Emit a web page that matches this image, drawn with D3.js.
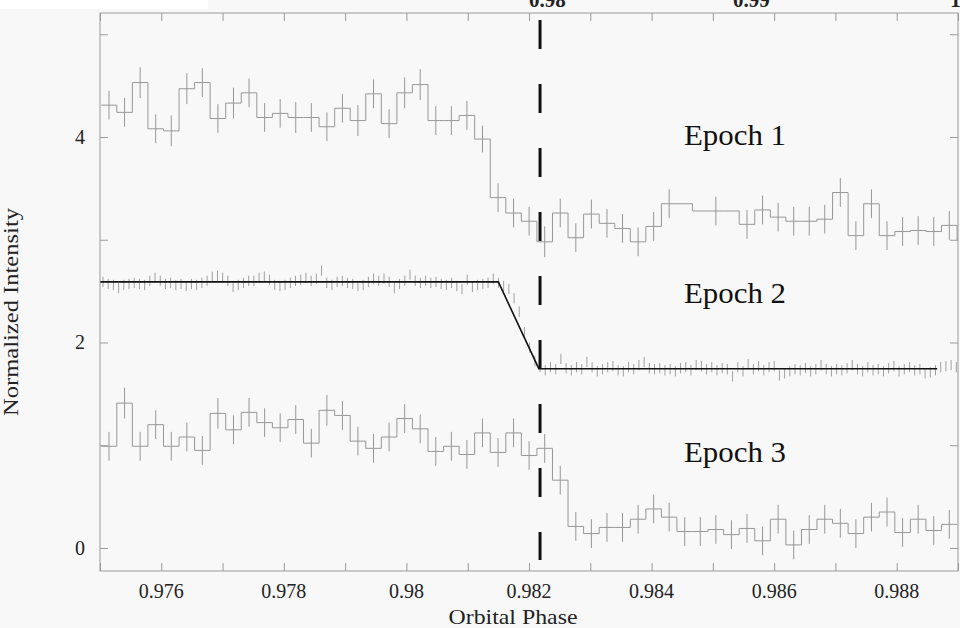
<!DOCTYPE html>
<html><head><meta charset="utf-8">
<script src="https://cdn.jsdelivr.net/npm/d3@7"></script>
<style>
html,body{margin:0;padding:0;background:#f8f8f8;}
svg{display:block;}
text{font-family:"Liberation Serif","DejaVu Serif",serif;}
</style></head>
<body>
<svg id="chart" width="960" height="628"></svg>
<script>
// ---------- data ----------
const binPhase = [0.975147,0.975401,0.975655,0.975909,0.976163,0.976417,0.976670,0.976924,0.977178,0.977432,
  0.977686,0.977940,0.978194,0.978448,0.978702,0.978956,0.979209,0.979463,0.979717,0.979971,
  0.980225,0.980479,0.980733,0.980987,0.981241,0.981495,0.981748,0.982002,0.982256,0.982510,
  0.982764,0.983018,0.983272,0.983526,0.983780,0.984034,0.984287,0.984541,0.984795,0.985049,
  0.985303,0.985557,0.985811,0.986065,0.986319,0.986573,0.986826,0.987080,0.987334,0.987588,
  0.987842,0.988096,0.988350,0.988604,0.988858,0.989112];
const binHalfWidth = 0.000127;

const epoch1Values = [4.31,4.24,4.53,4.08,4.06,4.47,4.53,4.18,4.33,4.43,
  4.19,4.23,4.19,4.19,4.10,4.28,4.16,4.42,4.13,4.43,
  4.51,4.16,4.16,4.21,3.98,3.41,3.26,3.18,2.98,3.26,
  3.02,3.25,3.16,3.11,2.98,3.13,3.35,3.35,3.28,3.28,
  3.28,3.15,3.29,3.22,3.18,3.18,3.20,3.46,3.04,3.35,
  3.04,3.08,3.09,3.08,3.14,3.00];
const epoch1Errors = [0.14,0.14,0.15,0.14,0.15,0.15,0.14,0.14,0.15,0.14,
  0.14,0.14,0.15,0.14,0.14,0.14,0.15,0.14,0.14,0.15,
  0.15,0.14,0.14,0.14,0.13,0.14,0.14,0.14,0.15,0.14,
  0.14,0.14,0.14,0.14,0.14,0.14,0.14,null,null,0.14,
  null,0.14,0.14,0.14,0.14,0.14,0.14,0.14,0.14,0.14,
  0.14,0.14,0.14,0.14,0.14,null];

const epoch3Values = [0.99,1.41,0.99,1.20,0.99,1.08,0.95,1.31,1.15,1.32,
  1.22,1.17,1.25,1.02,1.34,1.29,1.04,0.97,1.08,1.26,
  1.16,0.94,0.99,0.91,1.12,0.93,1.12,0.90,0.97,0.66,
  0.21,0.14,0.20,0.20,0.28,0.38,0.30,0.16,0.16,0.18,
  0.13,0.19,0.07,0.28,0.03,0.18,0.28,0.24,0.14,0.30,
  0.35,0.15,0.28,0.17,0.23];
const epoch3Errors = [0.14,0.15,0.14,0.14,0.14,0.14,0.14,0.15,0.14,0.14,
  0.14,0.14,0.14,0.14,0.15,0.14,0.14,0.14,0.14,0.14,
  0.14,0.14,0.14,0.14,0.14,0.14,0.14,0.14,0.14,0.14,
  0.14,0.14,0.14,0.14,0.14,0.14,0.14,0.14,0.14,0.14,
  0.14,0.14,0.14,0.14,0.14,0.14,0.14,0.14,0.14,0.14,
  0.14,0.14,0.14,0.14,0.14];

// Epoch 2: fine sampling grid
const epoch2Start = 0.975049;
const epoch2Bin = 0.0000849;
const epoch2Values = [2.59,2.57,2.56,2.53,2.56,2.57,2.58,2.57,2.56,2.60,
  2.63,2.60,2.57,2.58,2.56,2.57,2.55,2.57,2.56,2.58,
  2.60,2.64,2.65,2.63,2.60,2.54,2.56,2.58,2.60,2.60,
  2.63,2.64,2.61,2.56,2.55,2.56,2.58,2.60,2.61,2.63,
  2.60,2.62,2.70,2.58,2.56,2.59,2.60,2.58,2.57,2.55,
  2.56,2.59,2.62,2.60,2.62,2.59,2.53,2.57,2.60,2.66,
  2.60,2.58,2.60,2.58,2.59,2.57,2.56,2.58,2.55,2.52,
  2.61,2.54,2.56,2.57,2.58,2.62,2.58,2.55,2.52,2.43,
  2.30,2.10,1.95,1.82,1.76,1.73,1.76,1.74,1.84,1.75,
  1.73,1.76,1.74,1.81,1.76,1.72,1.74,1.76,1.77,1.73,
  1.72,1.76,1.74,1.78,1.81,1.75,1.74,1.75,1.73,1.74,
  1.72,1.75,1.76,1.73,1.78,1.77,1.74,1.76,1.73,1.75,
  1.74,1.67,1.76,1.72,1.79,1.74,1.77,1.73,1.76,1.77,
  1.68,1.70,1.72,1.74,1.73,1.75,1.72,1.74,1.78,1.74,
  1.72,1.74,1.73,1.75,1.78,1.74,1.72,1.76,1.73,1.74,
  1.72,1.75,1.77,1.72,1.74,1.76,1.73,1.74,1.70,1.71,
  1.73,1.76,1.77,1.78,1.76];
const epoch2Error = 0.05;

const modelPhase = [0.975, 0.9815, 0.98216, 0.98866];
const modelValue = [2.59, 2.59, 1.745, 1.745];

const eclipsePhase = 0.98218;

const xTicksMajor = [0.976, 0.978, 0.98, 0.982, 0.984, 0.986, 0.988];
const xTickLabels = ["0.976","0.978","0.98","0.982","0.984","0.986","0.988"];
const xTicksMinor = [0.975,0.977,0.979,0.981,0.983,0.985,0.987,0.989];
const yTicksMajor = [0, 2, 4];
const yTickLabels = ["0","2","4"];
const yTicksMinor = [1, 3, 5];

const epochLabels = ["Epoch 1", "Epoch 2", "Epoch 3"];
const epochLabelValues = [3.92, 2.38, 0.84];

const topCutLabels = ["0.98", "0.99", "1"];
const topCutPhases = [0.98230, 0.98563, 0.98896];

// ---------- layout ----------
const L = 100, R = 958, T = 13, B = 571;
const x = d3.scaleLinear().domain([0.975, 0.989]).range([L, R]);
const y = d3.scaleLinear().domain([-0.224, 5.207]).range([B, T]);

const svg = d3.select("#chart");
svg.append("rect").attr("x",0).attr("y",0).attr("width",960).attr("height",628).attr("fill","#f8f8f8");
svg.append("rect").attr("x",0).attr("y",0).attr("width",208).attr("height",9).attr("fill","#ffffff");

svg.append("defs").append("clipPath").attr("id","plotclip")
  .append("rect").attr("x",L).attr("y",T).attr("width",R-L).attr("height",B-T);

const plot = svg.append("g").attr("clip-path","url(#plotclip)");
const gray = "#979797";

function drawHist(values, errors) {
  const pts = [];
  values.forEach((v,i) => {
    pts.push([binPhase[i]-binHalfWidth, v]);
    pts.push([binPhase[i]+binHalfWidth, v]);
  });
  plot.append("path")
    .attr("d", d3.line().x(d=>x(d[0])).y(d=>y(d[1]))(pts))
    .attr("fill","none").attr("stroke",gray).attr("stroke-width",1);
  plot.append("g").selectAll("line")
    .data(values.map((v,i)=>({p:binPhase[i], v, e:errors[i]})).filter(d=>d.e!=null))
    .join("line")
    .attr("x1",d=>x(d.p)).attr("x2",d=>x(d.p))
    .attr("y1",d=>y(d.v-d.e)).attr("y2",d=>y(d.v+d.e))
    .attr("stroke",gray).attr("stroke-width",1);
}
drawHist(epoch1Values, epoch1Errors);
drawHist(epoch3Values, epoch3Errors);

// Epoch 2 fine points (error bars)
const e2 = epoch2Values.map((v,i)=>({p: epoch2Start + i*epoch2Bin, v}));
plot.append("g").selectAll("line").data(e2).join("line")
  .attr("x1",d=>x(d.p)).attr("x2",d=>x(d.p))
  .attr("y1",d=>y(d.v-epoch2Error)).attr("y2",d=>y(d.v+epoch2Error))
  .attr("stroke","#a0a0a0").attr("stroke-width",1);

// model line
plot.append("path")
  .attr("d", d3.line().x(d=>x(d[0])).y(d=>y(d[1]))(modelPhase.map((p,i)=>[p, modelValue[i]])))
  .attr("fill","none").attr("stroke","#111").attr("stroke-width",1.6);

// dashed eclipse line
svg.append("line")
  .attr("x1",x(eclipsePhase)).attr("x2",x(eclipsePhase))
  .attr("y1",20).attr("y2",560)
  .attr("stroke","#111").attr("stroke-width",3)
  .attr("stroke-dasharray","29,35");

// frame
const axisColor = "#9a9a9a";
svg.append("rect").attr("x",L).attr("y",T).attr("width",R-L).attr("height",B-T)
  .attr("fill","none").attr("stroke",axisColor).attr("stroke-width",1);

// axes with inward ticks
const xb = d3.axisBottom(x).tickValues(xTicksMajor.concat(xTicksMinor)).tickSize(-8).tickFormat("");
const xt = d3.axisTop(x).tickValues(xTicksMajor.concat(xTicksMinor)).tickSize(-8).tickFormat("");
const yl = d3.axisLeft(y).tickValues(yTicksMajor.concat(yTicksMinor)).tickSize(-8).tickFormat("");
const yr = d3.axisRight(y).tickValues(yTicksMajor.concat(yTicksMinor)).tickSize(-8).tickFormat("");
[[xb,`translate(0,${B})`],[xt,`translate(0,${T})`],[yl,`translate(${L},0)`],[yr,`translate(${R},0)`]].forEach(([a,t])=>{
  const g = svg.append("g").attr("transform",t).call(a);
  g.select(".domain").remove();
  g.selectAll("line").attr("stroke",axisColor);
});

// tick labels
svg.append("g").selectAll("text").data(xTicksMajor).join("text")
  .attr("x",d=>x(d)).attr("y",598).attr("text-anchor","middle")
  .attr("font-size",20).attr("fill","#222").text((d,i)=>xTickLabels[i]);
svg.append("g").selectAll("text").data(yTicksMajor).join("text")
  .attr("x",85).attr("y",d=>y(d)+7).attr("text-anchor","end")
  .attr("font-size",20).attr("fill","#222").text((d,i)=>yTickLabels[i]);

// axis titles
svg.append("text").attr("x",513).attr("y",624).attr("text-anchor","middle")
  .attr("font-size",21).attr("textLength",129).attr("lengthAdjust","spacingAndGlyphs")
  .attr("fill","#222").text("Orbital Phase");
svg.append("text").attr("transform","translate(18,312) rotate(-90)").attr("text-anchor","middle")
  .attr("font-size",21).attr("textLength",208).attr("lengthAdjust","spacingAndGlyphs")
  .attr("fill","#222").text("Normalized Intensity");

// epoch labels
svg.append("g").selectAll("text").data(epochLabels).join("text")
  .attr("x",684).attr("y",(d,i)=>y(epochLabelValues[i]))
  .attr("font-size",30).attr("textLength",102).attr("lengthAdjust","spacingAndGlyphs")
  .attr("fill","#111").text(d=>d);

// clipped labels of the panel above
svg.append("g").selectAll("text").data(topCutLabels).join("text")
  .attr("x",(d,i)=>x(topCutPhases[i])).attr("y",7).attr("text-anchor","middle")
  .attr("font-size",21).attr("font-weight","bold").attr("fill","#222").text(d=>d);
</script>
</body></html>
